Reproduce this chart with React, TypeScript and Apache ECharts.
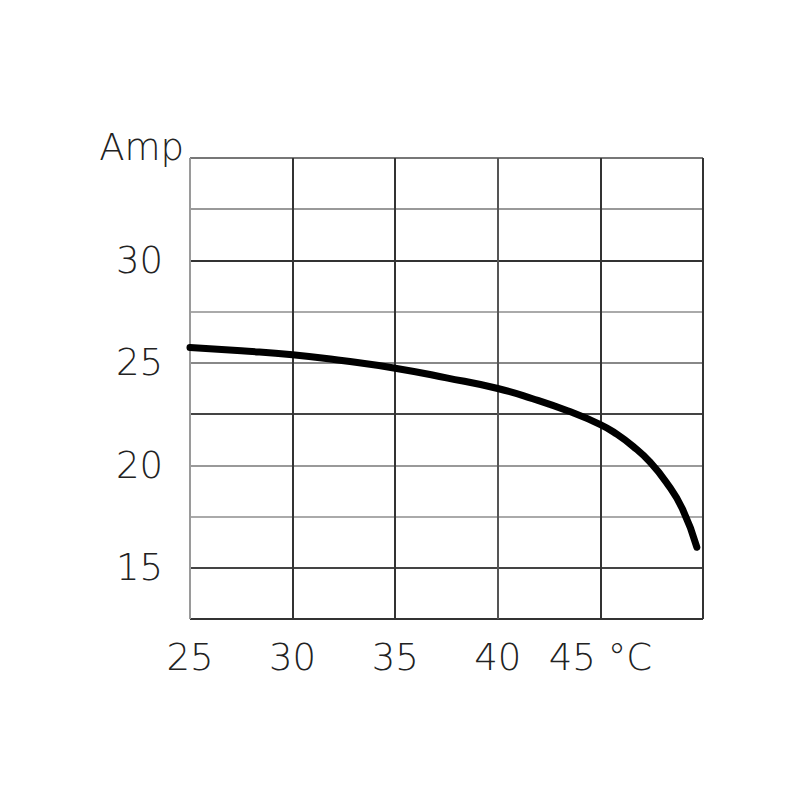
import React, { useEffect, useRef } from "react";
import * as echarts from "echarts";

const temps = [25, 27.5, 30, 32.5, 35, 37.5, 40, 41.7, 43.4, 45, 45.8, 46.6, 47.4, 48.2, 49, 49.7];
const amps = [25.75, 25.59, 25.4, 25.1, 24.74, 24.27, 23.75, 23.25, 22.66, 21.99, 21.52, 20.92, 20.18, 19.19, 17.87, 16.0];
const yTickLabels = [15, 20, 25, 30];
const xTickLabels: Record<number, string> = { 25: "25", 30: "30", 35: "35", 40: "40", 45: "45 °C", 50: "" };
const yName = "Amp";

const FONT = "DejaVu Sans";

export default function App() {
  const ref = useRef<HTMLDivElement>(null);
  useEffect(() => {
    if (!ref.current) return;
    const chart = echarts.init(ref.current, null, { renderer: "svg" });
    chart.setOption({
      animation: false,
      backgroundColor: "#ffffff",
      grid: { left: 190, right: 97, top: 158, bottom: 181 },
      xAxis: {
        type: "value",
        min: 25,
        max: 50,
        interval: 5,
        axisLine: { show: false },
        axisTick: { show: false },
        axisLabel: {
          margin: 20,
          fontFamily: FONT,
          fontWeight: 200,
          fontSize: 37,
          color: "#222",
          formatter: (v: number) => xTickLabels[v] ?? "",
        },
        splitLine: {
          show: true,
          lineStyle: { color: ["#9a9a9a", "#333", "#333", "#555", "#333", "#333"], width: 2 },
        },
      },
      yAxis: {
        type: "value",
        min: 12.5,
        max: 35,
        interval: 2.5,
        axisLine: { show: false },
        axisTick: { show: false },
        axisLabel: {
          margin: 27,
          fontFamily: FONT,
          fontWeight: 200,
          fontSize: 37,
          color: "#222",
          formatter: (v: number) => (yTickLabels.includes(v) ? String(v) : ""),
        },
        splitLine: {
          show: true,
          lineStyle: {
            color: ["#333", "#444", "#aaa", "#999", "#444", "#888", "#aaa", "#333", "#999", "#777"],
            width: 2,
          },
        },
      },
      graphic: [
        {
          type: "text",
          x: 184,
          y: 166,
          style: {
            text: yName,
            fontFamily: FONT,
            fontWeight: 200,
            fontSize: 37,
            fill: "#222",
            textAlign: "right",
            textVerticalAlign: "bottom",
          },
        },
      ],
      series: [
        {
          type: "line",
          data: temps.map((t, i) => [t, amps[i]]),
          smooth: 0.5,
          smoothMonotone: "none",
          symbol: "none",
          lineStyle: { color: "#000", width: 7, cap: "round" },
        },
      ],
    });
    return () => chart.dispose();
  }, []);
  return <div ref={ref} style={{ width: 800, height: 800, margin: -8 }} />;
}
